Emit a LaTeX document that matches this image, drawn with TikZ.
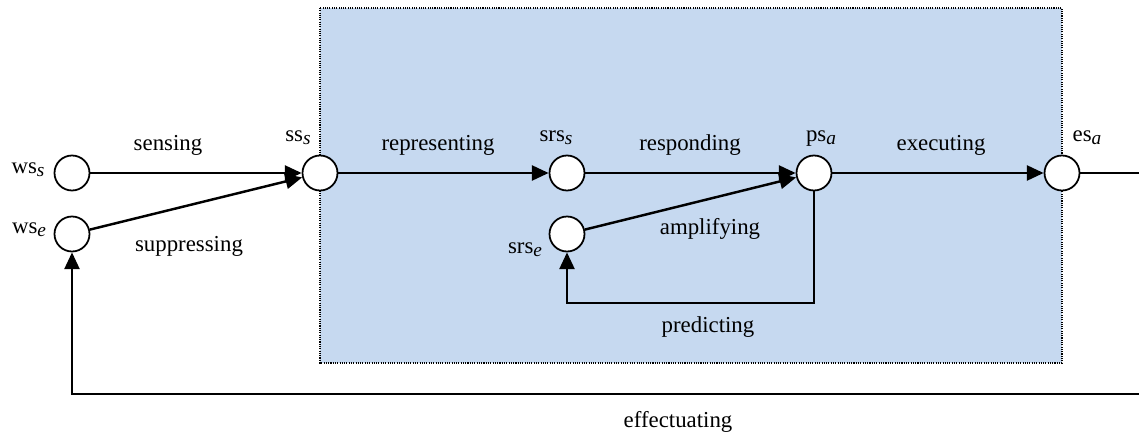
\documentclass[tikz,border=0pt]{standalone}
\usepackage{fontspec}
\setmainfont{Liberation Serif}
\usetikzlibrary{arrows.meta,positioning}
\definecolor{ctxblue}{RGB}{198,217,240}
% state name with a lowered italic index
\newcommand{\stname}[2]{#1\raisebox{-0.3ex}{\fontsize{11}{13}\selectfont\textit{#2}}}

\begin{document}
\begin{tikzpicture}[>={Triangle[length=9.5pt,width=8.5pt]}, x=0.02cm, y=-0.02cm,
    font=\fontsize{13}{15}\selectfont,
    state/.style={draw, circle, fill=white, line width=1pt,
                  minimum size=0.7cm, inner sep=0pt},
    flow/.style={->, line width=1.4pt},
    lab/.style={anchor=base, inner sep=0pt}]
\useasboundingbox (0,0) rectangle (1139,436);

% internal region
\draw[fill=ctxblue, line width=0.7pt, dash pattern=on 0.6pt off 0.7pt]
  (320,8) rectangle (1062,363);

% states
\node[state] (wss) at (72,173) {};
\node[state] (wse) at (72,234) {};
\node[state] (sss) at (320,173) {};
\node[state] (srss) at (567,173) {};
\node[state] (srse) at (567,234) {};
\node[state] (psa) at (814,173) {};
\node[state] (esa) at (1062,173) {};

\node[lab] at (28,173) {\stname{ws}{s}};
\node[lab] at (29,233) {\stname{ws}{e}};
\node[lab] at (298,141) {\stname{ss}{s}};
\node[lab] at (556,141) {\stname{srs}{s}};
\node[lab] at (525,253) {\stname{srs}{e}};
\node[lab] at (821,141) {\stname{ps}{a}};
\node[lab] at (1087,141) {\stname{es}{a}};

\coordinate (loop) at (814,303);
\coordinate (eout) at (1146,173);
\coordinate (ebot) at (1146,394);

% connections
\draw[flow] (wss) -- (sss);
\draw[flow] (wse) -- (sss);
\draw[flow] (sss) -- (srss);
\draw[flow] (srss) -- (psa);
\draw[flow] (srse) -- (psa);
\draw[flow] (psa) -- (esa);
\draw[flow] (psa) -- (loop) -| (srse);
\draw[line width=0.8pt] (esa) -- (eout);
\draw[flow] (eout) -- (ebot) -| (wse);

% labels on the connections
\node[lab] (sensing) at (168,150) {sensing};
\node[lab] (suppressing) at (189,251) {suppressing};
\node[lab] (representing) at (438,150) {representing};
\node[lab] (responding) at (690,150) {responding};
\node[lab] (amplifying) at (710,234) {amplifying};
\node[lab] (predicting) at (708,332) {predicting};
\node[lab] (executing) at (941,150) {executing};
\node[lab] (effectuating) at (678,427) {effectuating};
\end{tikzpicture}
\end{document}
